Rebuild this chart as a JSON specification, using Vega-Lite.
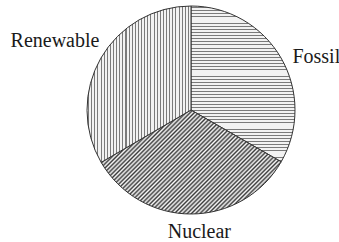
{
"$schema": "https://vega.github.io/schema/vega-lite/v6.json",
"width": 296, "height": 220,
"autosize": {"type": "none"},
"padding": {"left": 43, "top": 0, "right": 0, "bottom": 22},
"background": "white",
"view": {"stroke": null},
"data": {"values": [
 {"source": "Fossil", "share": 33.3},
 {"source": "Nuclear", "share": 33.3},
 {"source": "Renewable", "share": 33.4}
]},
"encoding": {"theta": {"field": "share", "type": "quantitative", "stack": true}},
"layer": [
{"mark": {"type": "arc", "radius": 104, "stroke": "#333", "strokeWidth": 1},
 "encoding": {"fill": {
  "condition": [
   {"test": "datum.source === 'Fossil'", "value": {"gradient": "linear", "x1": 0, "y1": 0, "x2": 0, "y2": 1, "stops": [
{"offset":0.007,"color":"#f2f2f2"},{"offset":0.007,"color":"#7a7a7a"},{"offset":0.013,"color":"#7a7a7a"},{"offset":0.013,"color":"#f2f2f2"},
{"offset":0.027,"color":"#f2f2f2"},{"offset":0.027,"color":"#7a7a7a"},{"offset":0.033,"color":"#7a7a7a"},{"offset":0.033,"color":"#f2f2f2"},
{"offset":0.047,"color":"#f2f2f2"},{"offset":0.047,"color":"#7a7a7a"},{"offset":0.053,"color":"#7a7a7a"},{"offset":0.053,"color":"#f2f2f2"},
{"offset":0.067,"color":"#f2f2f2"},{"offset":0.067,"color":"#7a7a7a"},{"offset":0.073,"color":"#7a7a7a"},{"offset":0.073,"color":"#f2f2f2"},
{"offset":0.087,"color":"#f2f2f2"},{"offset":0.087,"color":"#7a7a7a"},{"offset":0.093,"color":"#7a7a7a"},{"offset":0.093,"color":"#f2f2f2"},
{"offset":0.107,"color":"#f2f2f2"},{"offset":0.107,"color":"#7a7a7a"},{"offset":0.113,"color":"#7a7a7a"},{"offset":0.113,"color":"#f2f2f2"},
{"offset":0.127,"color":"#f2f2f2"},{"offset":0.127,"color":"#7a7a7a"},{"offset":0.133,"color":"#7a7a7a"},{"offset":0.133,"color":"#f2f2f2"},
{"offset":0.147,"color":"#f2f2f2"},{"offset":0.147,"color":"#7a7a7a"},{"offset":0.153,"color":"#7a7a7a"},{"offset":0.153,"color":"#f2f2f2"},
{"offset":0.167,"color":"#f2f2f2"},{"offset":0.167,"color":"#7a7a7a"},{"offset":0.173,"color":"#7a7a7a"},{"offset":0.173,"color":"#f2f2f2"},
{"offset":0.187,"color":"#f2f2f2"},{"offset":0.187,"color":"#7a7a7a"},{"offset":0.193,"color":"#7a7a7a"},{"offset":0.193,"color":"#f2f2f2"},
{"offset":0.207,"color":"#f2f2f2"},{"offset":0.207,"color":"#7a7a7a"},{"offset":0.213,"color":"#7a7a7a"},{"offset":0.213,"color":"#f2f2f2"},
{"offset":0.227,"color":"#f2f2f2"},{"offset":0.227,"color":"#7a7a7a"},{"offset":0.233,"color":"#7a7a7a"},{"offset":0.233,"color":"#f2f2f2"},
{"offset":0.247,"color":"#f2f2f2"},{"offset":0.247,"color":"#7a7a7a"},{"offset":0.253,"color":"#7a7a7a"},{"offset":0.253,"color":"#f2f2f2"},
{"offset":0.267,"color":"#f2f2f2"},{"offset":0.267,"color":"#7a7a7a"},{"offset":0.273,"color":"#7a7a7a"},{"offset":0.273,"color":"#f2f2f2"},
{"offset":0.287,"color":"#f2f2f2"},{"offset":0.287,"color":"#7a7a7a"},{"offset":0.293,"color":"#7a7a7a"},{"offset":0.293,"color":"#f2f2f2"},
{"offset":0.307,"color":"#f2f2f2"},{"offset":0.307,"color":"#7a7a7a"},{"offset":0.313,"color":"#7a7a7a"},{"offset":0.313,"color":"#f2f2f2"},
{"offset":0.327,"color":"#f2f2f2"},{"offset":0.327,"color":"#7a7a7a"},{"offset":0.333,"color":"#7a7a7a"},{"offset":0.333,"color":"#f2f2f2"},
{"offset":0.347,"color":"#f2f2f2"},{"offset":0.347,"color":"#7a7a7a"},{"offset":0.353,"color":"#7a7a7a"},{"offset":0.353,"color":"#f2f2f2"},
{"offset":0.367,"color":"#f2f2f2"},{"offset":0.367,"color":"#7a7a7a"},{"offset":0.373,"color":"#7a7a7a"},{"offset":0.373,"color":"#f2f2f2"},
{"offset":0.387,"color":"#f2f2f2"},{"offset":0.387,"color":"#7a7a7a"},{"offset":0.393,"color":"#7a7a7a"},{"offset":0.393,"color":"#f2f2f2"},
{"offset":0.407,"color":"#f2f2f2"},{"offset":0.407,"color":"#7a7a7a"},{"offset":0.413,"color":"#7a7a7a"},{"offset":0.413,"color":"#f2f2f2"},
{"offset":0.427,"color":"#f2f2f2"},{"offset":0.427,"color":"#7a7a7a"},{"offset":0.433,"color":"#7a7a7a"},{"offset":0.433,"color":"#f2f2f2"},
{"offset":0.447,"color":"#f2f2f2"},{"offset":0.447,"color":"#7a7a7a"},{"offset":0.453,"color":"#7a7a7a"},{"offset":0.453,"color":"#f2f2f2"},
{"offset":0.467,"color":"#f2f2f2"},{"offset":0.467,"color":"#7a7a7a"},{"offset":0.473,"color":"#7a7a7a"},{"offset":0.473,"color":"#f2f2f2"},
{"offset":0.487,"color":"#f2f2f2"},{"offset":0.487,"color":"#7a7a7a"},{"offset":0.493,"color":"#7a7a7a"},{"offset":0.493,"color":"#f2f2f2"},
{"offset":0.507,"color":"#f2f2f2"},{"offset":0.507,"color":"#7a7a7a"},{"offset":0.513,"color":"#7a7a7a"},{"offset":0.513,"color":"#f2f2f2"},
{"offset":0.527,"color":"#f2f2f2"},{"offset":0.527,"color":"#7a7a7a"},{"offset":0.533,"color":"#7a7a7a"},{"offset":0.533,"color":"#f2f2f2"},
{"offset":0.547,"color":"#f2f2f2"},{"offset":0.547,"color":"#7a7a7a"},{"offset":0.553,"color":"#7a7a7a"},{"offset":0.553,"color":"#f2f2f2"},
{"offset":0.567,"color":"#f2f2f2"},{"offset":0.567,"color":"#7a7a7a"},{"offset":0.573,"color":"#7a7a7a"},{"offset":0.573,"color":"#f2f2f2"},
{"offset":0.587,"color":"#f2f2f2"},{"offset":0.587,"color":"#7a7a7a"},{"offset":0.593,"color":"#7a7a7a"},{"offset":0.593,"color":"#f2f2f2"},
{"offset":0.607,"color":"#f2f2f2"},{"offset":0.607,"color":"#7a7a7a"},{"offset":0.613,"color":"#7a7a7a"},{"offset":0.613,"color":"#f2f2f2"},
{"offset":0.627,"color":"#f2f2f2"},{"offset":0.627,"color":"#7a7a7a"},{"offset":0.633,"color":"#7a7a7a"},{"offset":0.633,"color":"#f2f2f2"},
{"offset":0.647,"color":"#f2f2f2"},{"offset":0.647,"color":"#7a7a7a"},{"offset":0.653,"color":"#7a7a7a"},{"offset":0.653,"color":"#f2f2f2"},
{"offset":0.667,"color":"#f2f2f2"},{"offset":0.667,"color":"#7a7a7a"},{"offset":0.673,"color":"#7a7a7a"},{"offset":0.673,"color":"#f2f2f2"},
{"offset":0.687,"color":"#f2f2f2"},{"offset":0.687,"color":"#7a7a7a"},{"offset":0.693,"color":"#7a7a7a"},{"offset":0.693,"color":"#f2f2f2"},
{"offset":0.707,"color":"#f2f2f2"},{"offset":0.707,"color":"#7a7a7a"},{"offset":0.713,"color":"#7a7a7a"},{"offset":0.713,"color":"#f2f2f2"},
{"offset":0.727,"color":"#f2f2f2"},{"offset":0.727,"color":"#7a7a7a"},{"offset":0.733,"color":"#7a7a7a"},{"offset":0.733,"color":"#f2f2f2"},
{"offset":0.747,"color":"#f2f2f2"},{"offset":0.747,"color":"#7a7a7a"},{"offset":0.753,"color":"#7a7a7a"},{"offset":0.753,"color":"#f2f2f2"},
{"offset":0.767,"color":"#f2f2f2"},{"offset":0.767,"color":"#7a7a7a"},{"offset":0.773,"color":"#7a7a7a"},{"offset":0.773,"color":"#f2f2f2"},
{"offset":0.787,"color":"#f2f2f2"},{"offset":0.787,"color":"#7a7a7a"},{"offset":0.793,"color":"#7a7a7a"},{"offset":0.793,"color":"#f2f2f2"},
{"offset":0.807,"color":"#f2f2f2"},{"offset":0.807,"color":"#7a7a7a"},{"offset":0.813,"color":"#7a7a7a"},{"offset":0.813,"color":"#f2f2f2"},
{"offset":0.827,"color":"#f2f2f2"},{"offset":0.827,"color":"#7a7a7a"},{"offset":0.833,"color":"#7a7a7a"},{"offset":0.833,"color":"#f2f2f2"},
{"offset":0.847,"color":"#f2f2f2"},{"offset":0.847,"color":"#7a7a7a"},{"offset":0.853,"color":"#7a7a7a"},{"offset":0.853,"color":"#f2f2f2"},
{"offset":0.867,"color":"#f2f2f2"},{"offset":0.867,"color":"#7a7a7a"},{"offset":0.873,"color":"#7a7a7a"},{"offset":0.873,"color":"#f2f2f2"},
{"offset":0.887,"color":"#f2f2f2"},{"offset":0.887,"color":"#7a7a7a"},{"offset":0.893,"color":"#7a7a7a"},{"offset":0.893,"color":"#f2f2f2"},
{"offset":0.907,"color":"#f2f2f2"},{"offset":0.907,"color":"#7a7a7a"},{"offset":0.913,"color":"#7a7a7a"},{"offset":0.913,"color":"#f2f2f2"},
{"offset":0.927,"color":"#f2f2f2"},{"offset":0.927,"color":"#7a7a7a"},{"offset":0.933,"color":"#7a7a7a"},{"offset":0.933,"color":"#f2f2f2"},
{"offset":0.947,"color":"#f2f2f2"},{"offset":0.947,"color":"#7a7a7a"},{"offset":0.953,"color":"#7a7a7a"},{"offset":0.953,"color":"#f2f2f2"},
{"offset":0.967,"color":"#f2f2f2"},{"offset":0.967,"color":"#7a7a7a"},{"offset":0.973,"color":"#7a7a7a"},{"offset":0.973,"color":"#f2f2f2"},
{"offset":0.987,"color":"#f2f2f2"},{"offset":0.987,"color":"#7a7a7a"},{"offset":0.993,"color":"#7a7a7a"},{"offset":0.993,"color":"#f2f2f2"}
   ]}},
   {"test": "datum.source === 'Renewable'", "value": {"gradient": "linear", "x1": 0, "y1": 0, "x2": 1, "y2": 0, "stops": [
{"offset":0.01,"color":"#f2f2f2"},{"offset":0.01,"color":"#7a7a7a"},{"offset":0.02,"color":"#7a7a7a"},{"offset":0.02,"color":"#f2f2f2"},
{"offset":0.04,"color":"#f2f2f2"},{"offset":0.04,"color":"#7a7a7a"},{"offset":0.05,"color":"#7a7a7a"},{"offset":0.05,"color":"#f2f2f2"},
{"offset":0.07,"color":"#f2f2f2"},{"offset":0.07,"color":"#7a7a7a"},{"offset":0.08,"color":"#7a7a7a"},{"offset":0.08,"color":"#f2f2f2"},
{"offset":0.10,"color":"#f2f2f2"},{"offset":0.10,"color":"#7a7a7a"},{"offset":0.11,"color":"#7a7a7a"},{"offset":0.11,"color":"#f2f2f2"},
{"offset":0.13,"color":"#f2f2f2"},{"offset":0.13,"color":"#7a7a7a"},{"offset":0.14,"color":"#7a7a7a"},{"offset":0.14,"color":"#f2f2f2"},
{"offset":0.16,"color":"#f2f2f2"},{"offset":0.16,"color":"#7a7a7a"},{"offset":0.17,"color":"#7a7a7a"},{"offset":0.17,"color":"#f2f2f2"},
{"offset":0.19,"color":"#f2f2f2"},{"offset":0.19,"color":"#7a7a7a"},{"offset":0.20,"color":"#7a7a7a"},{"offset":0.20,"color":"#f2f2f2"},
{"offset":0.22,"color":"#f2f2f2"},{"offset":0.22,"color":"#7a7a7a"},{"offset":0.23,"color":"#7a7a7a"},{"offset":0.23,"color":"#f2f2f2"},
{"offset":0.25,"color":"#f2f2f2"},{"offset":0.25,"color":"#7a7a7a"},{"offset":0.26,"color":"#7a7a7a"},{"offset":0.26,"color":"#f2f2f2"},
{"offset":0.28,"color":"#f2f2f2"},{"offset":0.28,"color":"#7a7a7a"},{"offset":0.29,"color":"#7a7a7a"},{"offset":0.29,"color":"#f2f2f2"},
{"offset":0.31,"color":"#f2f2f2"},{"offset":0.31,"color":"#7a7a7a"},{"offset":0.32,"color":"#7a7a7a"},{"offset":0.32,"color":"#f2f2f2"},
{"offset":0.34,"color":"#f2f2f2"},{"offset":0.34,"color":"#7a7a7a"},{"offset":0.35,"color":"#7a7a7a"},{"offset":0.35,"color":"#f2f2f2"},
{"offset":0.37,"color":"#f2f2f2"},{"offset":0.37,"color":"#7a7a7a"},{"offset":0.38,"color":"#7a7a7a"},{"offset":0.38,"color":"#f2f2f2"},
{"offset":0.40,"color":"#f2f2f2"},{"offset":0.40,"color":"#7a7a7a"},{"offset":0.41,"color":"#7a7a7a"},{"offset":0.41,"color":"#f2f2f2"},
{"offset":0.43,"color":"#f2f2f2"},{"offset":0.43,"color":"#7a7a7a"},{"offset":0.44,"color":"#7a7a7a"},{"offset":0.44,"color":"#f2f2f2"},
{"offset":0.46,"color":"#f2f2f2"},{"offset":0.46,"color":"#7a7a7a"},{"offset":0.47,"color":"#7a7a7a"},{"offset":0.47,"color":"#f2f2f2"},
{"offset":0.49,"color":"#f2f2f2"},{"offset":0.49,"color":"#7a7a7a"},{"offset":0.50,"color":"#7a7a7a"},{"offset":0.50,"color":"#f2f2f2"},
{"offset":0.52,"color":"#f2f2f2"},{"offset":0.52,"color":"#7a7a7a"},{"offset":0.53,"color":"#7a7a7a"},{"offset":0.53,"color":"#f2f2f2"},
{"offset":0.55,"color":"#f2f2f2"},{"offset":0.55,"color":"#7a7a7a"},{"offset":0.56,"color":"#7a7a7a"},{"offset":0.56,"color":"#f2f2f2"},
{"offset":0.58,"color":"#f2f2f2"},{"offset":0.58,"color":"#7a7a7a"},{"offset":0.59,"color":"#7a7a7a"},{"offset":0.59,"color":"#f2f2f2"},
{"offset":0.61,"color":"#f2f2f2"},{"offset":0.61,"color":"#7a7a7a"},{"offset":0.62,"color":"#7a7a7a"},{"offset":0.62,"color":"#f2f2f2"},
{"offset":0.64,"color":"#f2f2f2"},{"offset":0.64,"color":"#7a7a7a"},{"offset":0.65,"color":"#7a7a7a"},{"offset":0.65,"color":"#f2f2f2"},
{"offset":0.67,"color":"#f2f2f2"},{"offset":0.67,"color":"#7a7a7a"},{"offset":0.68,"color":"#7a7a7a"},{"offset":0.68,"color":"#f2f2f2"},
{"offset":0.70,"color":"#f2f2f2"},{"offset":0.70,"color":"#7a7a7a"},{"offset":0.71,"color":"#7a7a7a"},{"offset":0.71,"color":"#f2f2f2"},
{"offset":0.73,"color":"#f2f2f2"},{"offset":0.73,"color":"#7a7a7a"},{"offset":0.74,"color":"#7a7a7a"},{"offset":0.74,"color":"#f2f2f2"},
{"offset":0.76,"color":"#f2f2f2"},{"offset":0.76,"color":"#7a7a7a"},{"offset":0.77,"color":"#7a7a7a"},{"offset":0.77,"color":"#f2f2f2"},
{"offset":0.79,"color":"#f2f2f2"},{"offset":0.79,"color":"#7a7a7a"},{"offset":0.80,"color":"#7a7a7a"},{"offset":0.80,"color":"#f2f2f2"},
{"offset":0.82,"color":"#f2f2f2"},{"offset":0.82,"color":"#7a7a7a"},{"offset":0.83,"color":"#7a7a7a"},{"offset":0.83,"color":"#f2f2f2"},
{"offset":0.85,"color":"#f2f2f2"},{"offset":0.85,"color":"#7a7a7a"},{"offset":0.86,"color":"#7a7a7a"},{"offset":0.86,"color":"#f2f2f2"},
{"offset":0.88,"color":"#f2f2f2"},{"offset":0.88,"color":"#7a7a7a"},{"offset":0.89,"color":"#7a7a7a"},{"offset":0.89,"color":"#f2f2f2"},
{"offset":0.91,"color":"#f2f2f2"},{"offset":0.91,"color":"#7a7a7a"},{"offset":0.92,"color":"#7a7a7a"},{"offset":0.92,"color":"#f2f2f2"},
{"offset":0.94,"color":"#f2f2f2"},{"offset":0.94,"color":"#7a7a7a"},{"offset":0.95,"color":"#7a7a7a"},{"offset":0.95,"color":"#f2f2f2"},
{"offset":0.97,"color":"#f2f2f2"},{"offset":0.97,"color":"#7a7a7a"},{"offset":0.98,"color":"#7a7a7a"},{"offset":0.98,"color":"#f2f2f2"}
   ]}}
  ],
  "value": {"gradient": "linear", "x1": 0, "y1": 0, "x2": 1.183, "y2": 0.683, "stops": [
{"offset":0,"color":"#fafafa"},{"offset":0.0075,"color":"#3c3c3c"},{"offset":0.015,"color":"#fafafa"},{"offset":0.0225,"color":"#3c3c3c"},
{"offset":0.03,"color":"#fafafa"},{"offset":0.0375,"color":"#3c3c3c"},{"offset":0.045,"color":"#fafafa"},{"offset":0.0525,"color":"#3c3c3c"},
{"offset":0.06,"color":"#fafafa"},{"offset":0.0675,"color":"#3c3c3c"},{"offset":0.075,"color":"#fafafa"},{"offset":0.0825,"color":"#3c3c3c"},
{"offset":0.09,"color":"#fafafa"},{"offset":0.0975,"color":"#3c3c3c"},{"offset":0.105,"color":"#fafafa"},{"offset":0.1125,"color":"#3c3c3c"},
{"offset":0.12,"color":"#fafafa"},{"offset":0.1275,"color":"#3c3c3c"},{"offset":0.135,"color":"#fafafa"},{"offset":0.1425,"color":"#3c3c3c"},
{"offset":0.15,"color":"#fafafa"},{"offset":0.1575,"color":"#3c3c3c"},{"offset":0.165,"color":"#fafafa"},{"offset":0.1725,"color":"#3c3c3c"},
{"offset":0.18,"color":"#fafafa"},{"offset":0.1875,"color":"#3c3c3c"},{"offset":0.195,"color":"#fafafa"},{"offset":0.2025,"color":"#3c3c3c"},
{"offset":0.21,"color":"#fafafa"},{"offset":0.2175,"color":"#3c3c3c"},{"offset":0.225,"color":"#fafafa"},{"offset":0.2325,"color":"#3c3c3c"},
{"offset":0.24,"color":"#fafafa"},{"offset":0.2475,"color":"#3c3c3c"},{"offset":0.255,"color":"#fafafa"},{"offset":0.2625,"color":"#3c3c3c"},
{"offset":0.27,"color":"#fafafa"},{"offset":0.2775,"color":"#3c3c3c"},{"offset":0.285,"color":"#fafafa"},{"offset":0.2925,"color":"#3c3c3c"},
{"offset":0.3,"color":"#fafafa"},{"offset":0.3075,"color":"#3c3c3c"},{"offset":0.315,"color":"#fafafa"},{"offset":0.3225,"color":"#3c3c3c"},
{"offset":0.33,"color":"#fafafa"},{"offset":0.3375,"color":"#3c3c3c"},{"offset":0.345,"color":"#fafafa"},{"offset":0.3525,"color":"#3c3c3c"},
{"offset":0.36,"color":"#fafafa"},{"offset":0.3675,"color":"#3c3c3c"},{"offset":0.375,"color":"#fafafa"},{"offset":0.3825,"color":"#3c3c3c"},
{"offset":0.39,"color":"#fafafa"},{"offset":0.3975,"color":"#3c3c3c"},{"offset":0.405,"color":"#fafafa"},{"offset":0.4125,"color":"#3c3c3c"},
{"offset":0.42,"color":"#fafafa"},{"offset":0.4275,"color":"#3c3c3c"},{"offset":0.435,"color":"#fafafa"},{"offset":0.4425,"color":"#3c3c3c"},
{"offset":0.45,"color":"#fafafa"},{"offset":0.4575,"color":"#3c3c3c"},{"offset":0.465,"color":"#fafafa"},{"offset":0.4725,"color":"#3c3c3c"},
{"offset":0.48,"color":"#fafafa"},{"offset":0.4875,"color":"#3c3c3c"},{"offset":0.495,"color":"#fafafa"},{"offset":0.5025,"color":"#3c3c3c"},
{"offset":0.51,"color":"#fafafa"},{"offset":0.5175,"color":"#3c3c3c"},{"offset":0.525,"color":"#fafafa"},{"offset":0.5325,"color":"#3c3c3c"},
{"offset":0.54,"color":"#fafafa"},{"offset":0.5475,"color":"#3c3c3c"},{"offset":0.555,"color":"#fafafa"},{"offset":0.5625,"color":"#3c3c3c"},
{"offset":0.57,"color":"#fafafa"},{"offset":0.5775,"color":"#3c3c3c"},{"offset":0.585,"color":"#fafafa"},{"offset":0.5925,"color":"#3c3c3c"},
{"offset":0.6,"color":"#fafafa"},{"offset":0.6075,"color":"#3c3c3c"},{"offset":0.615,"color":"#fafafa"},{"offset":0.6225,"color":"#3c3c3c"},
{"offset":0.63,"color":"#fafafa"},{"offset":0.6375,"color":"#3c3c3c"},{"offset":0.645,"color":"#fafafa"},{"offset":0.6525,"color":"#3c3c3c"},
{"offset":0.66,"color":"#fafafa"},{"offset":0.6675,"color":"#3c3c3c"},{"offset":0.675,"color":"#fafafa"},{"offset":0.6825,"color":"#3c3c3c"},
{"offset":0.69,"color":"#fafafa"},{"offset":0.6975,"color":"#3c3c3c"},{"offset":0.705,"color":"#fafafa"},{"offset":0.7125,"color":"#3c3c3c"},
{"offset":0.72,"color":"#fafafa"},{"offset":0.7275,"color":"#3c3c3c"},{"offset":0.735,"color":"#fafafa"},{"offset":0.7425,"color":"#3c3c3c"},
{"offset":0.75,"color":"#fafafa"},{"offset":0.7575,"color":"#3c3c3c"},{"offset":0.765,"color":"#fafafa"},{"offset":0.7725,"color":"#3c3c3c"},
{"offset":0.78,"color":"#fafafa"},{"offset":0.7875,"color":"#3c3c3c"},{"offset":0.795,"color":"#fafafa"},{"offset":0.8025,"color":"#3c3c3c"},
{"offset":0.81,"color":"#fafafa"},{"offset":0.8175,"color":"#3c3c3c"},{"offset":0.825,"color":"#fafafa"},{"offset":0.8325,"color":"#3c3c3c"},
{"offset":0.84,"color":"#fafafa"},{"offset":0.8475,"color":"#3c3c3c"},{"offset":0.855,"color":"#fafafa"},{"offset":0.8625,"color":"#3c3c3c"},
{"offset":0.87,"color":"#fafafa"},{"offset":0.8775,"color":"#3c3c3c"},{"offset":0.885,"color":"#fafafa"},{"offset":0.8925,"color":"#3c3c3c"},
{"offset":0.9,"color":"#fafafa"},{"offset":0.9075,"color":"#3c3c3c"},{"offset":0.915,"color":"#fafafa"},{"offset":0.9225,"color":"#3c3c3c"},
{"offset":0.93,"color":"#fafafa"},{"offset":0.9375,"color":"#3c3c3c"},{"offset":0.945,"color":"#fafafa"},{"offset":0.9525,"color":"#3c3c3c"},
{"offset":0.96,"color":"#fafafa"},{"offset":0.9675,"color":"#3c3c3c"},{"offset":0.975,"color":"#fafafa"},{"offset":0.9825,"color":"#3c3c3c"},
{"offset":0.99,"color":"#fafafa"},{"offset":0.9975,"color":"#3c3c3c"}
  ]}
 }}},
{"mark": {"type": "text", "radius": 116, "align": "left", "baseline": "alphabetic", "dx": 1, "dy": 11, "font": "Liberation Serif", "fontSize": 20, "fill": "#1a1a1a"},
 "encoding": {"text": {"condition": {"test": "datum.source === 'Fossil'", "field": "source", "type": "nominal"}, "value": ""}}},
{"mark": {"type": "text", "radius": 116, "align": "center", "baseline": "alphabetic", "dx": 8, "dy": 12, "font": "Liberation Serif", "fontSize": 20, "fill": "#1a1a1a"},
 "encoding": {"text": {"condition": {"test": "datum.source === 'Nuclear'", "field": "source", "type": "nominal"}, "value": ""}}},
{"mark": {"type": "text", "radius": 116, "align": "right", "baseline": "alphabetic", "dx": 9, "dy": -5, "font": "Liberation Serif", "fontSize": 20, "fill": "#1a1a1a"},
 "encoding": {"text": {"condition": {"test": "datum.source === 'Renewable'", "field": "source", "type": "nominal"}, "value": ""}}}
]
}
